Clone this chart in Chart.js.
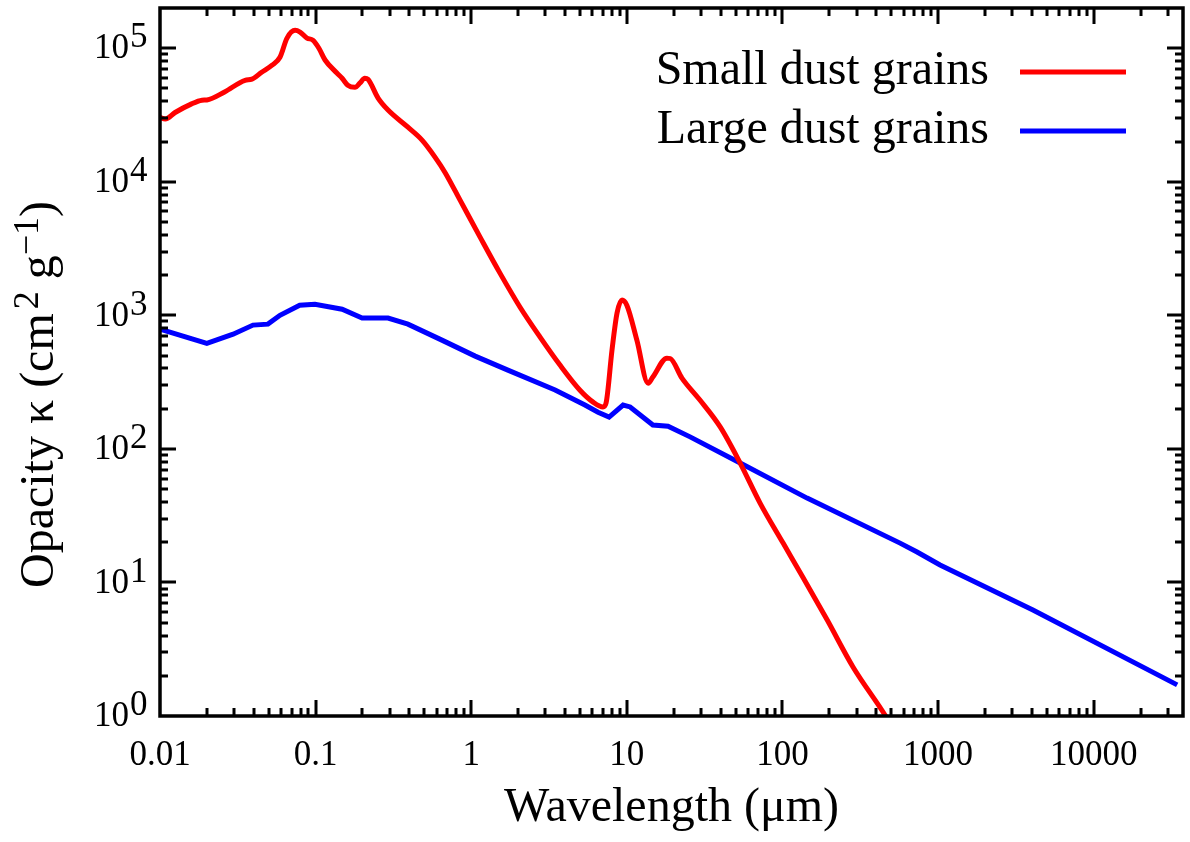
<!DOCTYPE html>
<html>
<head>
<meta charset="utf-8">
<script src="https://cdn.jsdelivr.net/npm/chart.js@4/dist/chart.umd.min.js"></script>
<style>
  html, body { margin: 0; padding: 0; background: #fff; }
  #wrap { width: 1190px; height: 842px; }
</style>
</head>
<body>
<div id="wrap"><canvas id="c" width="1190" height="842"></canvas></div>
<script>
// ---------------- data ----------------
const seriesLabels = ['Small dust grains', 'Large dust grains'];

const wavelengthSmall = [0.01, 0.0108, 0.0125, 0.0156, 0.0186, 0.0200, 0.0260, 0.0352, 0.0390, 0.0450,
  0.0525, 0.059, 0.0655, 0.0738, 0.0794, 0.088, 0.096, 0.105, 0.115, 0.137, 0.148, 0.161, 0.179,
  0.193, 0.207, 0.217, 0.252, 0.292, 0.392, 0.483, 0.585, 0.680, 0.848, 1.14, 1.53, 2.06, 2.77,
  3.72, 5.0, 6.07, 7.03, 7.35, 8.03, 8.65, 9.31, 10.0, 11.6, 13.7, 14.7, 18.1, 19.0, 22.6, 29.5,
  39.8, 53.5, 71.8, 101, 135, 194, 284, 460, 490];
const opacitySmall = [30300, 29500, 33000, 37800, 40800, 41000, 47000, 57500, 58600, 66000,
  74600, 85600, 119000, 136000, 132000, 119000, 115000, 100000, 81600, 65200, 59600, 52800, 51000,
  55000, 59600, 58500, 42300, 34400, 25600, 20500, 15300, 11700, 7280, 3850, 2070, 1150, 687,
  424, 275, 224, 206, 220, 550, 1040, 1300, 1190, 652, 310, 345, 478, 475, 339, 232,
  146, 78.3, 39.3, 19.7, 11, 5.23, 2.33, 1.0, 0.88];

const wavelengthLarge = [0.01, 0.02, 0.0295, 0.0396, 0.0494, 0.059, 0.079, 0.099, 0.148, 0.199,
  0.292, 0.392, 0.648, 1.06, 1.72, 3.46, 5.38, 6.53, 7.69, 9.46, 10.5, 14.7, 18.4, 25.5, 53.5,
  144, 570, 733, 1030, 4070, 34400];
const opacityLarge = [789, 617, 722, 845, 859, 1000, 1190, 1210, 1110, 953,
  953, 859, 652, 495, 389, 276, 213, 188, 173, 213, 206, 151, 148, 123, 78.3,
  42.8, 19.7, 16.9, 13.5, 6.21, 1.71];

const xTickLabels = ['0.01', '0.1', '1', '10', '100', '1000', '10000'];
const yTickExponents = ['0', '1', '2', '3', '4', '5'];

const xTitle = 'Wavelength (\u03bcm)';

// ---------------- helpers ----------------
const FONT = '"Liberation Serif", "Times New Roman", Times, serif';

function isMajor(v) {
  const l = Math.log10(v);
  return Math.abs(l - Math.round(l)) < 1e-9;
}
function logTickValues(min, max) {
  const out = [];
  for (let e = Math.floor(Math.log10(min)); e <= Math.ceil(Math.log10(max)); e++) {
    for (let m = 1; m <= 9; m++) {
      const v = parseFloat((m * Math.pow(10, e)).toPrecision(12));
      if (v >= min * 0.9999 && v <= max * 1.0001) out.push({ value: v, major: m === 1 });
    }
  }
  return out;
}

// frame and inward ticks on all four sides
const frameTicks = {
  id: 'frameTicks',
  afterDatasetsDraw(chart) {
    const { ctx, chartArea: a, scales: { x, y } } = chart;
    ctx.save();
    ctx.strokeStyle = '#000';
    ctx.lineWidth = 3;
    ctx.lineCap = 'butt';
    ctx.beginPath();
    x.ticks.forEach(t => {
      const px = Math.round(x.getPixelForValue(t.value));
      if (px <= a.left + 1 || px >= a.right - 1) return;
      const len = isMajor(t.value) ? 16 : 8;
      ctx.moveTo(px, a.bottom); ctx.lineTo(px, a.bottom - len);
      ctx.moveTo(px, a.top); ctx.lineTo(px, a.top + len);
    });
    y.ticks.forEach(t => {
      const py = Math.round(y.getPixelForValue(t.value));
      if (py <= a.top + 1 || py >= a.bottom - 1) return;
      const len = isMajor(t.value) ? 16 : 8;
      ctx.moveTo(a.left, py); ctx.lineTo(a.left + len, py);
      ctx.moveTo(a.right, py); ctx.lineTo(a.right - len, py);
    });
    ctx.stroke();
    ctx.lineWidth = 3.5;
    ctx.strokeRect(a.left, a.top, a.right - a.left, a.bottom - a.top);
    ctx.restore();
  }
};

// y tick labels as 10^n and y title with superscripts
const yLabels = {
  id: 'yLabels',
  afterDraw(chart) {
    const { ctx, scales: { y } } = chart;
    ctx.save();
    ctx.fillStyle = '#000';
    ctx.textBaseline = 'middle';
    y.ticks.forEach(t => {
      if (!isMajor(t.value)) return;
      const py = y.getPixelForValue(t.value);
      const e = Math.round(Math.log10(t.value));
      ctx.font = '35px ' + FONT;
      ctx.textAlign = 'right';
      ctx.fillText('10', 129, py + 1);
      ctx.textAlign = 'left';
      ctx.fillText(yTickExponents[e], 130, py - 10);
    });
    // y title
    ctx.translate(53, 588);
    ctx.rotate(-Math.PI / 2);
    ctx.textAlign = 'left';
    ctx.textBaseline = 'alphabetic';
    const parts = [
      ['Opacity \u03ba (cm', 48, 0],
      ['2', 36, -15],
      [' g', 48, 0],
      ['\u22121', 36, -15],
      [')', 48, 0]
    ];
    let cx = 0;
    parts.forEach(([s, size, dy], i) => {
      ctx.font = size + 'px ' + FONT;
      if (i === 1) cx += 4;
      ctx.fillText(s, cx, dy);
      cx += ctx.measureText(s).width;
    });
    ctx.restore();
  }
};

// legend inside the plot: text right-aligned, line sample on the right
const innerLegend = {
  id: 'innerLegend',
  afterDraw(chart) {
    const { ctx } = chart;
    ctx.save();
    chart.data.datasets.forEach((ds, i) => {
      const base = 84 + i * 59;
      ctx.font = '48px ' + FONT;
      ctx.fillStyle = '#000';
      ctx.textAlign = 'right';
      ctx.textBaseline = 'alphabetic';
      ctx.fillText(ds.label, 989, base);
      ctx.strokeStyle = ds.borderColor;
      ctx.lineWidth = 5;
      ctx.beginPath();
      ctx.moveTo(1020, base - 12);
      ctx.lineTo(1126, base - 12);
      ctx.stroke();
    });
    ctx.restore();
  }
};

const toPoints = (xs, ys) => xs.map((v, i) => ({ x: v, y: ys[i] }));

new Chart(document.getElementById('c'), {
  type: 'line',
  data: {
    datasets: [
      {
        label: seriesLabels[0],
        data: toPoints(wavelengthSmall, opacitySmall),
        borderColor: 'rgb(255,0,0)',
        borderWidth: 5,
        pointRadius: 0,
        fill: false,
        cubicInterpolationMode: 'monotone',
        clip: 0
      },
      {
        label: seriesLabels[1],
        data: toPoints(wavelengthLarge, opacityLarge),
        borderColor: 'rgb(0,0,255)',
        borderWidth: 5,
        pointRadius: 0,
        fill: false,
        tension: 0,
        clip: 0
      }
    ]
  },
  options: {
    responsive: false,
    animation: false,
    devicePixelRatio: 1,
    layout: { padding: { top: 8, right: 7, left: 0, bottom: 0 } },
    plugins: { legend: { display: false }, tooltip: { enabled: false } },
    scales: {
      x: {
        type: 'logarithmic',
        min: 0.01,
        max: 37500,
        grid: { display: false },
        border: { display: false },
        afterBuildTicks(scale) { scale.ticks = logTickValues(0.01, 37500); },
        afterFit(scale) { scale.height = 126; },
        ticks: {
          autoSkip: false,
          maxRotation: 0,
          padding: 11,
          color: '#000',
          font: { family: FONT, size: 35 },
          callback(v) {
            if (!isMajor(v)) return '';
            return xTickLabels[Math.round(Math.log10(v)) + 2];
          }
        },
        title: {
          display: true,
          text: xTitle,
          color: '#000',
          font: { family: FONT, size: 48 },
          padding: { top: 0, bottom: 5 }
        }
      },
      y: {
        type: 'logarithmic',
        min: 1,
        max: 200000,
        grid: { display: false },
        border: { display: false },
        afterBuildTicks(scale) { scale.ticks = logTickValues(1, 200000); },
        afterFit(scale) { scale.width = 160; },
        ticks: { display: false }
      }
    }
  },
  plugins: [frameTicks, yLabels, innerLegend]
});
</script>
</body>
</html>
